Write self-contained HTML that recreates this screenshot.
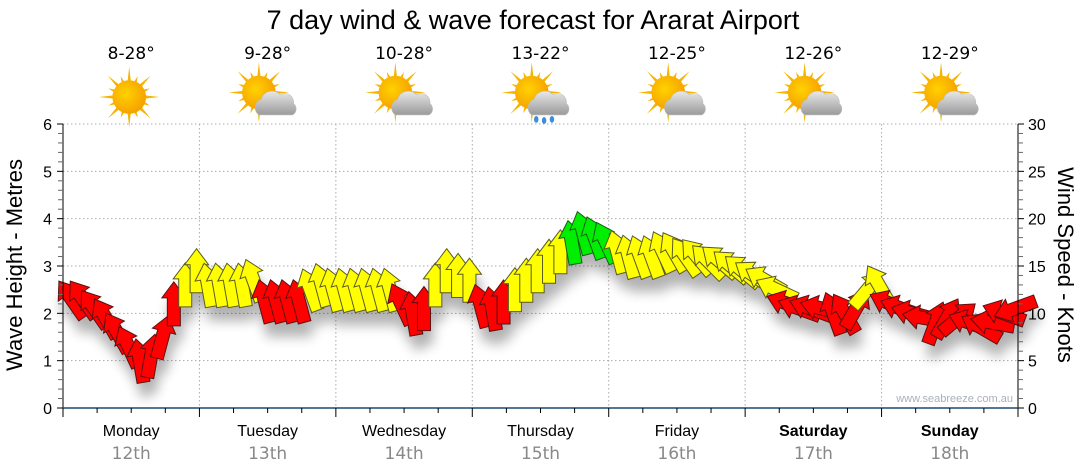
<!DOCTYPE html>
<html><head><meta charset="utf-8">
<style>
html,body{margin:0;padding:0;background:#fff;}
svg{display:block;font-family:"Liberation Sans",sans-serif;}
</style></head>
<body>
<svg id="chart" width="1080" height="475" viewBox="0 0 1080 475">
<defs>
<filter id="shadow" x="-20%" y="-20%" width="140%" height="160%"><feGaussianBlur stdDeviation="6"/></filter>
<radialGradient id="sunG" cx="0.4" cy="0.4" r="0.7"><stop offset="0" stop-color="#ffd200"/><stop offset="1" stop-color="#f59a00"/></radialGradient>
<linearGradient id="cloudG" x1="0" y1="0" x2="0" y2="1"><stop offset="0" stop-color="#e8e8e8"/><stop offset="1" stop-color="#9a9a9a"/></linearGradient>
</defs>
<text x="533" y="29" font-size="27" text-anchor="middle" fill="#000">7 day wind &amp; wave forecast for Ararat Airport</text>
<g id="grid"></g>
<g id="shadows" filter="url(#shadow)" opacity="0.3"></g>
<g id="arrows"></g>
<g id="axes"></g>
<g id="header"></g>
<text transform="translate(22,265) rotate(-90)" font-size="22" text-anchor="middle">Wave Height - Metres</text>
<text transform="translate(1058,265) rotate(90)" font-size="22" text-anchor="middle">Wind Speed - Knots</text>
<text x="1013" y="402" font-size="11" text-anchor="end" fill="#aab0bb">www.seabreeze.com.au</text>
</svg>
<script>
const days = ["Monday","Tuesday","Wednesday","Thursday","Friday","Saturday","Sunday"];
const dates = ["12th","13th","14th","15th","16th","17th","18th"];
const temps = ["8-28°","9-28°","10-28°","13-22°","12-25°","12-26°","12-29°"];
const weather = ["sun","cloud","cloud","rain","cloud","cloud","cloud"];
const waveTicks = [0,1,2,3,4,5,6];
const windTicks = [0,5,10,15,20,25,30];
// wind every 2 hours (hour 1,3,...,23 of each day)
const windSpeed = [
 11.5,11.5,10.5,9.5,8,6.5,5,5.5,7.5,11,13,14.5,
 13,13,13,13,13.5,11.3,11.3,11.3,11.3,12.5,13,12.5,
 12.5,12.5,12.5,12.5,12.5,11,10,10.5,13,14.5,14,13.5,
 10.8,10.5,11.2,12.5,13.5,14.5,15.5,16.5,17.5,18.5,18,17.5,
 16.5,16,16,16,16.5,16.5,16,16,15.5,15.5,15,14.5,
 14,13.5,12.5,11,10.5,10.5,10.5,10,10,10.5,12.5,13,
 11,10.5,10,9.5,9,9.5,9.5,9,8.5,9,10,10.5];
const windDir = [
 -35,-35,-35,-30,-30,-25,-10,10,15,0,0,0,
 -10,-10,-10,-10,-20,-15,-15,-15,-15,-20,-15,-15,
 -15,-15,-15,-15,-15,-25,-10,0,0,0,0,0,
 -15,-10,0,0,0,0,0,0,-10,-15,-20,-25,
 -15,-15,-20,-20,-25,-30,-35,-40,-45,-50,-50,-50,
 -55,-60,-65,-70,-70,-70,-75,-20,-30,30,40,-30,
 -65,-70,-75,-80,20,30,50,-70,-60,-80,-70,-110];

const NS="http://www.w3.org/2000/svg";
const X0=63,X1=1018,Y0=408,Y1=124;
const dayW=(X1-X0)/7;
function xHour(h){return X0+h*dayW/24;}
function yWind(v){return Y0-(v/30)*(Y0-Y1);}
function yWave(v){return Y0-(v/6)*(Y0-Y1);}
function mk(tag,attrs,parent){const e=document.createElementNS(NS,tag);for(const k in attrs)e.setAttribute(k,attrs[k]);if(parent)parent.appendChild(e);return e;}
const grid=document.getElementById('grid'),axes=document.getElementById('axes'),hdr=document.getElementById('header');
const arrowsG=document.getElementById('arrows'),shadowsG=document.getElementById('shadows');

waveTicks.forEach(t=>{ if(t===0)return;
 const l=mk('line',{x1:X0,x2:X1,y1:yWave(t),y2:yWave(t),stroke:'#aaa','stroke-dasharray':'1.5,2.5'},grid);
 
 
});
for(let d=1;d<7;d++){
 const l=mk('line',{x1:X0+d*dayW,x2:X0+d*dayW,y1:Y1,y2:Y0,stroke:'#aaa','stroke-dasharray':'1.5,2.5'},grid);
 
 
}
mk('line',{x1:X0,x2:X0,y1:Y1,y2:Y0,stroke:'#000'},axes);
mk('line',{x1:X1,x2:X1,y1:Y1,y2:Y0,stroke:'#000'},axes);
mk('line',{x1:X0,x2:X1,y1:Y0,y2:Y0,stroke:'#1f4a70','stroke-width':1.5},axes);
for(let i=0;i<=30;i++){
 const y=Y0-i*(Y0-Y1)/30;
 mk('line',{x1:X0-(i%5===0?6:5),x2:X0,y1:y,y2:y,stroke:i%5===0?'#000':'#666'},axes);
 mk('line',{x1:X1,x2:X1+(i%5===0?6:5),y1:y,y2:y,stroke:i%5===0?'#000':'#666'},axes);
}
waveTicks.forEach(t=>{
 const e=mk('text',{x:X0-11,y:yWave(t)+6,'font-size':16,'text-anchor':'end'},axes);e.textContent=t;
 
 
});
windTicks.forEach(t=>{
 const e=mk('text',{x:X1+10,y:yWind(t)+6,'font-size':16},axes);e.textContent=t;
 
 
});
for(let q=0;q<=28;q++){
 const x=X0+q*dayW/4;
 mk('line',{x1:x,x2:x,y1:Y0,y2:Y0+(q%4===0?9:5),stroke:'#000'},axes);
}
days.forEach((d,i)=>{
 const cx=X0+(i+0.5)*dayW;
 const t=mk('text',{x:cx,y:436,'font-size':16,'text-anchor':'middle','font-weight':i>=5?'bold':'normal'},axes);t.textContent=d;
 
 
 const t2=mk('text',{x:cx,y:459,'font-size':17,'text-anchor':'middle',fill:'#888','font-family':'DejaVu Sans, sans-serif'},axes);t2.textContent=dates[i];
 
 
 const t3=mk('text',{x:cx,y:59,'font-size':17,'text-anchor':'middle','font-family':'DejaVu Sans, sans-serif'},hdr);t3.textContent=temps[i];
 
 
 const g=mk('g',{transform:`translate(${cx-2},97) scale(1.12)`},hdr);
 
 
 const sx=weather[i]==='sun'?0:-6, sy=weather[i]==='sun'?0:-4;
 for(let k=0;k<16;k++){
  const a=k*Math.PI/8,L=k%2?20:27;
  mk('polygon',{points:`${sx+Math.cos(a-0.12)*13},${sy+Math.sin(a-0.12)*13} ${sx+Math.cos(a)*L},${sy+Math.sin(a)*L} ${sx+Math.cos(a+0.12)*13},${sy+Math.sin(a+0.12)*13}`,fill:'#f4b400'},g);
 }
 mk('circle',{cx:sx,cy:sy,r:15,fill:'url(#sunG)'},g);
 if(weather[i]!=='sun'){
  mk('path',{d:'M-6,16 a8,8 0 0 1 2,-14 a10,10 0 0 1 17,-4 a8,8 0 0 1 12,8 a6,6 0 0 1 -1,10 z',fill:'url(#cloudG)',stroke:'#bbb','stroke-width':0.5},g);
 }
 if(weather[i]==='rain'){
  [[-2,20],[5,21],[12,20]].forEach(p=>mk('ellipse',{cx:p[0],cy:p[1],rx:2,ry:3,fill:'#3a8fd8'},g));
 }
});

const arrowPath="M0,-22 L12,-6 L6.5,-6 L6.5,22 L-6.5,22 L-6.5,-6 L-12,-6 Z";
windSpeed.forEach((v,i)=>{
 const x=xHour(1.5+2*i), y=yWind(v), r=windDir[i];
 const col=v>=17.5?'#00ee00':(v>=12?'#ffff00':'#ff0000');
 const st=v>=17.5?'#1a5a1a':(v>=12?'#5a5a20':'#5a1010');
 mk('path',{d:arrowPath,transform:`translate(${x+3},${y+14}) rotate(${r})`,fill:'#000'},shadowsG);
 const a=mk('path',{d:arrowPath,transform:`translate(${x},${y}) rotate(${r})`,fill:col,stroke:st,'stroke-width':1},arrowsG);
 
 
});
</script>
</body></html>
